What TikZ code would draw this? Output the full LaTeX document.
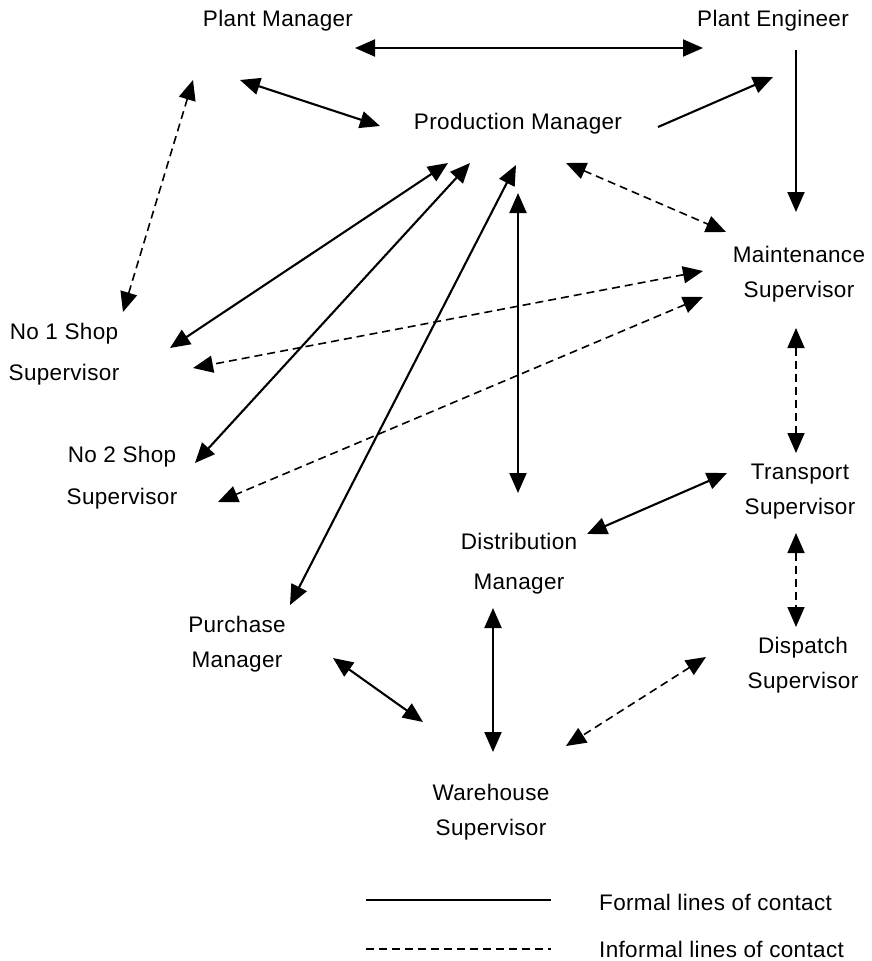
\documentclass[tikz,border=0pt]{standalone}
\usepackage{fontspec}
\setmainfont{Liberation Sans}[LetterSpace=1.5]
\usetikzlibrary{arrows.meta}
\begin{document}
\begin{tikzpicture}[x=1pt,y=-1pt,
  lbl/.style={font=\fontsize{22.5}{35}\selectfont, align=center, inner sep=0pt},
  formal/.style={line width=2.1pt},
  informal/.style={line width=1.6pt, dash pattern=on 8pt off 5pt},
  tip/.style={-{Triangle[length=20pt,width=17pt]}},
  both/.style={{Triangle[length=20pt,width=17pt]}-{Triangle[length=20pt,width=17pt]}}]
\useasboundingbox (0,0) rectangle (872,961);
% nodes
\node[lbl] (pm) at (278,21) {Plant Manager};
\node[lbl] (pe) at (773,21) {Plant Engineer};
\node[lbl] (prod) at (518,124) {Production Manager};
\node[lbl] (maint) at (799,274) {Maintenance\\Supervisor};
\node[lbl] (no1) at (64,354) {No 1 Shop\\[6pt]Supervisor};
\node[lbl] (no2) at (122,478) {No 2 Shop\\[7pt]Supervisor};
\node[lbl] (trans) at (800,492) {Transport\\Supervisor};
\node[lbl] (dist) at (519,564) {Distribution\\[5pt]Manager};
\node[lbl] (purch) at (237,644) {Purchase\\Manager};
\node[lbl] (disp) at (803,665) {Dispatch\\Supervisor};
\node[lbl] (ware) at (491,812) {Warehouse\\Supervisor};
\node[lbl, anchor=west] (lf) at (599,902) {Formal lines of contact};
\node[lbl, anchor=west] (li) at (599,949) {Informal lines of contact};
% connector end points
\coordinate (pm-pe) at (355,48);   \coordinate (pe-pm) at (703,48);
\coordinate (pm-prod) at (240,80); \coordinate (prod-pm) at (380,126);
\coordinate (prod-pe) at (658,127); \coordinate (pe-prod) at (773,77);
\coordinate (pe-maint) at (796,50); \coordinate (maint-pe) at (796,212);
\coordinate (pm-no1) at (193,80);  \coordinate (no1-pm) at (123,312);
\coordinate (prod-maint) at (566,163); \coordinate (maint-prod) at (726,232);
\coordinate (prod-no1) at (448,163); \coordinate (no1-prod) at (170,348);
\coordinate (prod-no2) at (470,163); \coordinate (no2-prod) at (195,463);
\coordinate (prod-purch) at (516,165); \coordinate (purch-prod) at (290,605);
\coordinate (maint-no1) at (703,271); \coordinate (no1-maint) at (193,368);
\coordinate (maint-no2) at (703,297); \coordinate (no2-maint) at (218,502);
\coordinate (prod-dist) at (518,193); \coordinate (dist-prod) at (518,493);
\coordinate (maint-trans) at (796,328); \coordinate (trans-maint) at (796,453);
\coordinate (trans-dist) at (727,473); \coordinate (dist-trans) at (587,534);
\coordinate (trans-disp) at (796,533); \coordinate (disp-trans) at (796,627);
\coordinate (dist-ware) at (493,608); \coordinate (ware-dist) at (493,752);
\coordinate (purch-ware) at (333,658); \coordinate (ware-purch) at (423,722);
\coordinate (disp-ware) at (706,657); \coordinate (ware-disp) at (566,746);
\coordinate (lf-a) at (366,900); \coordinate (lf-b) at (551,900);
\coordinate (li-a) at (366,949); \coordinate (li-b) at (551,949);
% connectors
\draw[formal,both] (pm-pe) -- (pe-pm);
\draw[formal,both] (pm-prod) -- (prod-pm);
\draw[formal,tip] (prod-pe) -- (pe-prod);
\draw[formal,tip] (pe-maint) -- (maint-pe);
\draw[informal,both] (pm-no1) -- (no1-pm);
\draw[informal,both] (prod-maint) -- (maint-prod);
\draw[formal,both] (prod-no1) -- (no1-prod);
\draw[formal,both] (prod-no2) -- (no2-prod);
\draw[formal,both] (prod-purch) -- (purch-prod);
\draw[informal,both] (maint-no1) -- (no1-maint);
\draw[informal,both] (maint-no2) -- (no2-maint);
\draw[formal,both] (prod-dist) -- (dist-prod);
\draw[informal,both] (maint-trans) -- (trans-maint);
\draw[formal,both] (trans-dist) -- (dist-trans);
\draw[informal,both] (trans-disp) -- (disp-trans);
\draw[formal,both] (dist-ware) -- (ware-dist);
\draw[formal,both] (purch-ware) -- (ware-purch);
\draw[informal,both] (disp-ware) -- (ware-disp);
% legend
\draw[formal] (lf-a) -- (lf-b);
\draw[informal] (li-a) -- (li-b);
\end{tikzpicture}
\end{document}
